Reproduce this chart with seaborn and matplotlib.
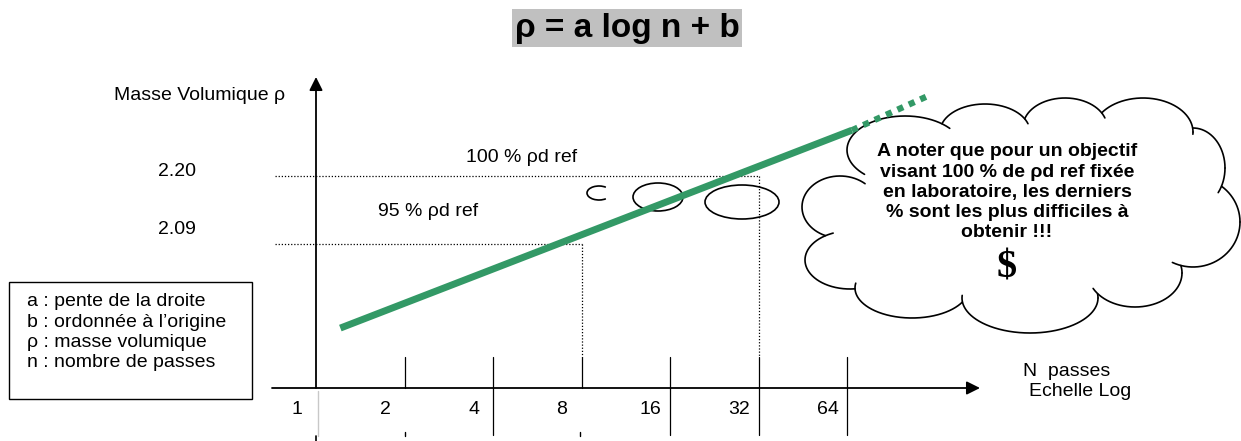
import numpy as np
import matplotlib
matplotlib.use("Agg")
import matplotlib.pyplot as plt
from matplotlib.patches import Rectangle, Arc, Ellipse
import seaborn as sns

# ---- chart values -------------------------------------------------------
n_ticks = [1, 2, 4, 8, 16, 32, 64]                 # number of passes (log scale)
ref_levels = [2.09, 2.20]                          # reference densities
ref_labels = ["95 % ρd ref", "100 % ρd ref"]
ref_passes = [8, 32]                               # passes where each level is reached
fit_n = [1.21, 66.5]                               # fitted line  ρ = a log n + b
fit_rho = [1.954, 2.274]
ext_n = [66.5, 122.6]                              # extrapolated part (dotted)
ext_rho = [2.274, 2.331]
legend_lines = ["a : pente de la droite", "b : ordonnée à l’origine",
                "ρ : masse volumique", "n : nombre de passes"]
cloud_lines = ["A noter que pour un objectif", "visant 100 % de ρd ref fixée",
               "en laboratoire, les derniers", "% sont les plus difficiles à",
               "obtenir !!!"]

GREEN = "#339966"
W, H = 1241, 441

sns.set_theme(style="white")
plt.rcParams["font.family"] = ["Liberation Sans", "DejaVu Sans"]
plt.rcParams["text.color"] = "black"

fig = plt.figure(figsize=(W / 100, H / 100), dpi=100)

# data axes: log2(n) horizontally, density vertically
X0, OCT = 316.0, 88.5          # pixel of n = 1, pixels per doubling
Y209, PRHO = 244.0, 618.2      # pixel of rho = 2.09, pixels per density unit


def n_at(px):
    return 2 ** ((px - X0) / OCT)


def rho_at(py):
    return 2.09 - (py - Y209) / PRHO


ax = fig.add_axes([0, 0, 1, 1])
ax.set_xscale("log", base=2)
ax.set_xlim(n_at(0), n_at(W))
ax.set_ylim(rho_at(H), rho_at(0))
ax.axis("off")
ax.patch.set_alpha(0)

# overlay in pixel units for frames, captions and the cloud
ov = fig.add_axes([0, 0, 1, 1], zorder=-1)
ov.set_xlim(0, W)
ov.set_ylim(H, 0)
ov.axis("off")

rho_axis = rho_at(388)
rho_tick_top = rho_at(357)
rho_tick_low = rho_at(435)

# axes with arrow heads
arrow = dict(arrowstyle="-|>", mutation_scale=20, lw=1.3, color="black",
             shrinkA=0, shrinkB=0)
ax.annotate("", xy=(n_at(980), rho_axis), xytext=(n_at(272), rho_axis), arrowprops=arrow)
ax.annotate("", xy=(1, rho_at(77)), xytext=(1, rho_axis), arrowprops=arrow)

# tick bars
for n in n_ticks[1:]:
    low = rho_axis if n in (2, 8) else rho_tick_low
    ax.plot([n, n], [low, rho_tick_top], color="black", lw=0.9)
for n in n_ticks:
    ax.text(n * 2 ** -0.22, rho_at(410), str(n), ha="center", va="center", fontsize=14)

# reference levels (dotted)
for lvl, n_ref in zip(ref_levels, ref_passes):
    ax.plot([n_at(275), n_ref], [lvl, lvl], color="black", lw=0.9, ls=(0, (1, 1.5)))
    ax.plot([n_ref, n_ref], [lvl, rho_tick_top], color="black", lw=0.9, ls=(0, (1, 1.5)))

ov.text(177, 171, "2.20", ha="center", va="center", fontsize=14)
ov.text(177, 229, "2.09", ha="center", va="center", fontsize=14)
ov.text(522, 158, ref_labels[1], ha="center", va="center", fontsize=14)
ov.text(428, 212, ref_labels[0], ha="center", va="center", fontsize=14)
ov.text(200, 96, "Masse Volumique ρ", ha="center", va="center", fontsize=14)
ov.text(1067, 372, "N  passes", ha="center", va="center", fontsize=14)
ov.text(1080, 391, "Echelle Log", ha="center", va="center", fontsize=14)

# fitted line and its extrapolation
sns.lineplot(x=fit_n, y=fit_rho, ax=ax, color=GREEN, linewidth=5,
             solid_capstyle="butt")
ax.plot(ext_n, ext_rho, color=GREEN, linewidth=4.5, ls=(0, (1, 1)),
        dash_capstyle="butt")

# bubbles
ov.add_patch(Arc((599, 193), 24, 14, theta1=40, theta2=320, lw=1.2, color="black"))
ov.add_patch(Ellipse((658, 197), 50, 28, fill=False, lw=1.2, ec="black"))
ov.add_patch(Ellipse((742, 202), 74, 34, fill=False, lw=1.2, ec="black"))

# lower continuation of the vertical axis
ov.plot([318, 318], [391, 436], color="#c8c8c8", lw=1)
ov.plot([316, 316], [436, 441], color="black", lw=1.2)
for xm in (405, 580):
    ov.plot([xm, xm], [432, 436], color="black", lw=1)

# title
ov.add_patch(Rectangle((512, 9), 230, 38, color="#c0c0c0", lw=0))
ov.text(627, 28, "ρ = a log n + b", ha="center", va="center", fontsize=24,
        fontweight="bold")

# definitions box
ov.add_patch(Rectangle((9, 282), 243, 117, fill=False, ec="black", lw=1))
for i, line in enumerate(legend_lines):
    ov.text(27, 302 + i * 20.2, line, ha="left", va="center", fontsize=14)

# cloud outline: outer boundary of overlapping ellipses
bumps = [
    (905, 150, 58, 34), (985, 132, 45, 28), (1065, 127, 42, 29),
    (1143, 132, 50, 34), (1193, 168, 32, 40), (1193, 222, 47, 45),
    (1135, 273, 47, 34), (1030, 298, 68, 35), (912, 288, 57, 30),
    (850, 260, 45, 29), (840, 207, 38, 31),
]
core = (1020, 215, 175, 88)


def inside(x, y, e, k=1.0):
    cx, cy, rx, ry = e
    return ((x - cx) / rx) ** 2 + ((y - cy) / ry) ** 2 < k


t = np.linspace(0, 2 * np.pi, 1441)
for i, (cx, cy, rx, ry) in enumerate(bumps):
    x = cx + rx * np.cos(t)
    y = cy + ry * np.sin(t)
    hidden = inside(x, y, core)
    for j, e in enumerate(bumps):
        if j != i:
            hidden |= inside(x, y, e)
    vis = ~hidden
    # short inward hook past the end of each visible arc
    ext = vis.copy()
    idx = np.where(vis & ~np.roll(vis, -1))[0]
    for k in idx:
        for s in range(1, 45):
            ext[(k + s) % len(t)] = True
    seg_x, seg_y = [], []
    for k in range(len(t)):
        if ext[k]:
            seg_x.append(x[k]); seg_y.append(y[k])
        elif seg_x:
            ov.plot(seg_x, seg_y, color="black", lw=1.2)
            seg_x, seg_y = [], []
    if seg_x:
        ov.plot(seg_x, seg_y, color="black", lw=1.2)

for i, line in enumerate(cloud_lines):
    ov.text(1007, 152 + i * 20.2, line, ha="center", va="center", fontsize=14,
            fontweight="bold")
ov.text(1007, 268, "$", ha="center", va="center", fontsize=29, fontweight="bold",
        family=["Liberation Serif", "DejaVu Serif"])

fig.savefig("out.png", dpi=100)
